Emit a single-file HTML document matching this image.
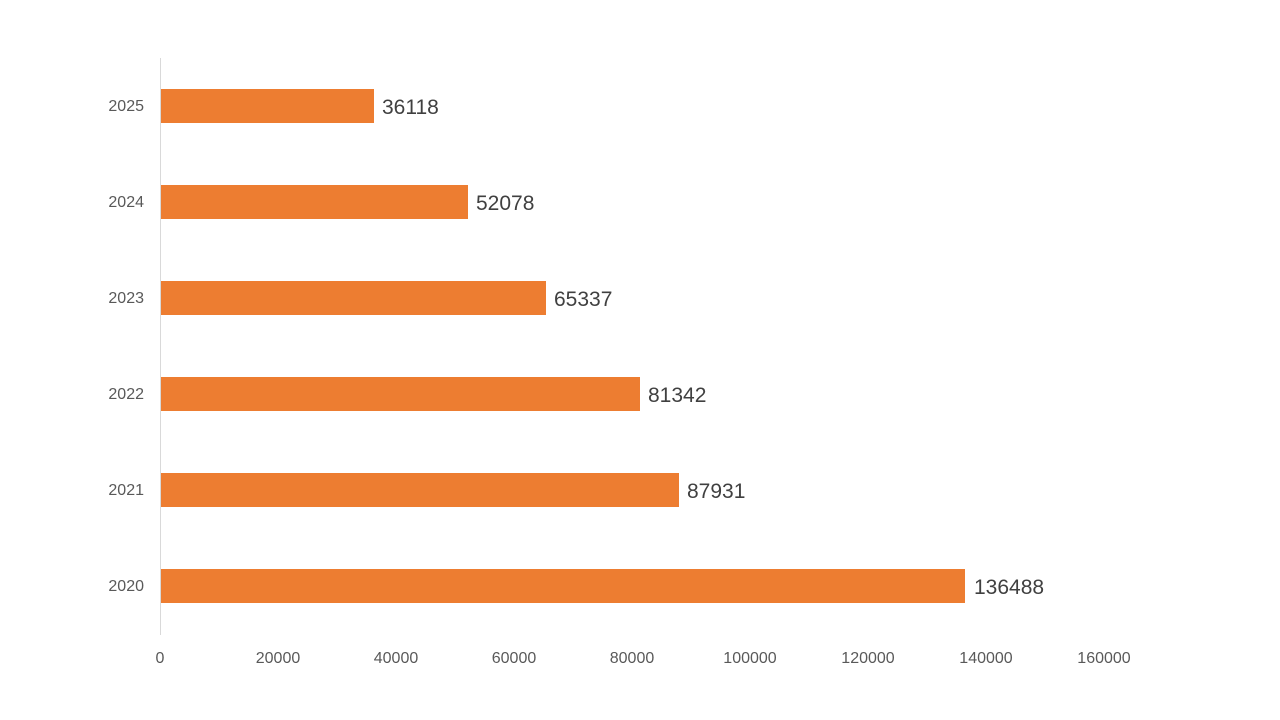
<!DOCTYPE html>
<html><head><meta charset="utf-8"><style>
body{margin:0;background:#fff;}
svg{display:block;font-family:"Liberation Sans",sans-serif;}
</style></head><body>
<svg width="1280" height="720" viewBox="0 0 1280 720">
<line x1="160.5" y1="58" x2="160.5" y2="635" stroke="#d9d9d9" stroke-width="1"/>
<g fill="#ED7D31">
<rect x="161" y="89" width="213" height="34"/>
<rect x="161" y="185" width="307" height="34"/>
<rect x="161" y="281" width="385" height="34"/>
<rect x="161" y="377" width="479" height="34"/>
<rect x="161" y="473" width="518" height="34"/>
<rect x="161" y="569" width="804" height="34"/>
</g>
<g fill="#404040" font-size="21">
<text x="382" y="114">36118</text>
<text x="476" y="210">52078</text>
<text x="554" y="306">65337</text>
<text x="648" y="402">81342</text>
<text x="687" y="498">87931</text>
<text x="974" y="594">136488</text>
</g>
<g fill="#595959" font-size="16" text-anchor="end">
<text x="144" y="111">2025</text>
<text x="144" y="207">2024</text>
<text x="144" y="303">2023</text>
<text x="144" y="399">2022</text>
<text x="144" y="495">2021</text>
<text x="144" y="591">2020</text>
</g>
<g fill="#595959" font-size="16" text-anchor="middle">
<text x="160" y="663">0</text>
<text x="278" y="663">20000</text>
<text x="396" y="663">40000</text>
<text x="514" y="663">60000</text>
<text x="632" y="663">80000</text>
<text x="750" y="663">100000</text>
<text x="868" y="663">120000</text>
<text x="986" y="663">140000</text>
<text x="1104" y="663">160000</text>
</g>
</svg>
</body></html>
